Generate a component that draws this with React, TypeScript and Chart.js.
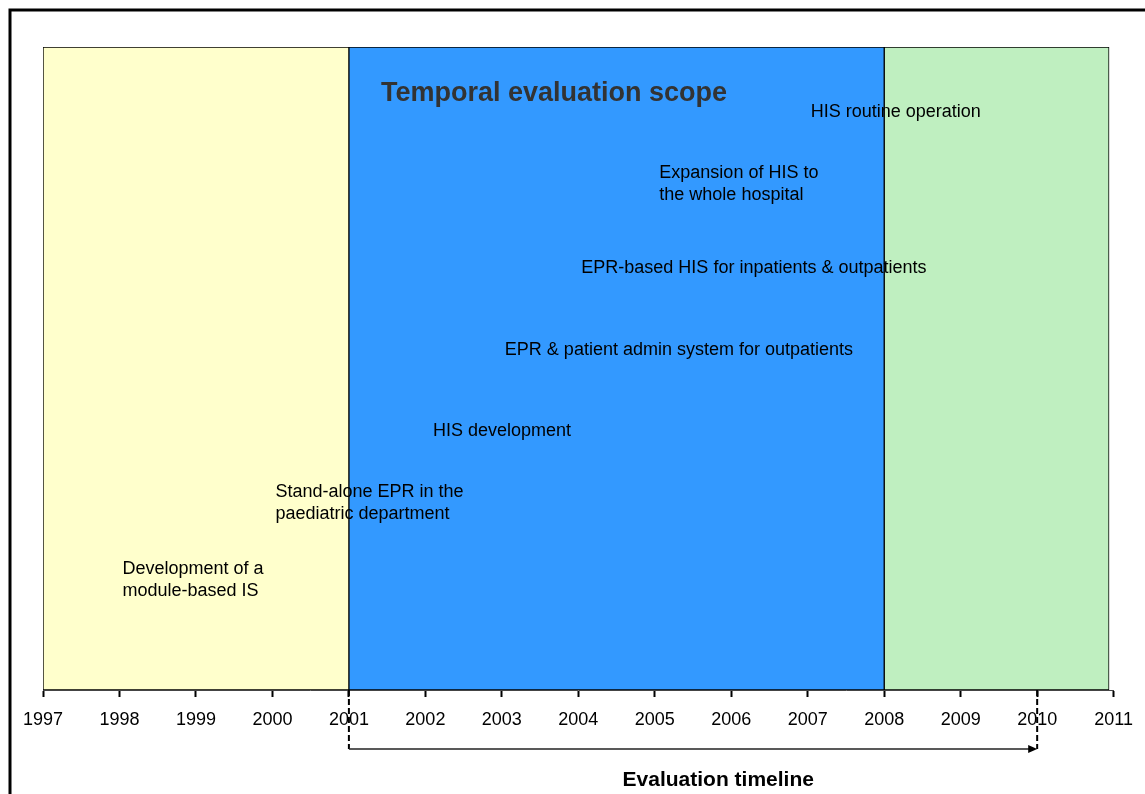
import React, { useEffect, useRef } from "react";
import { Chart, registerables } from "chart.js";

Chart.register(...registerables);

const YEARS = [1997, 1998, 1999, 2000, 2001, 2002, 2003, 2004, 2005, 2006, 2007, 2008, 2009, 2010, 2011];

const PHASE_NAMES = ["Development", "Temporal evaluation scope", "Routine operation"];
const PHASE_START = [1997, 2001, 2008];
const PHASE_END = [2001, 2008, 2010.94];
const PHASE_COLORS = ["#FFFFCC", "#3399FF", "#BFEFC0"];

const EVENT_LINES = [
  ["Development of a", "module-based IS"],
  ["Stand-alone EPR in the", "paediatric department"],
  ["HIS development"],
  ["EPR & patient admin system for outpatients"],
  ["EPR-based HIS for inpatients & outpatients"],
  ["Expansion of HIS to", "the whole hospital"],
  ["HIS routine operation"],
];
const EVENT_YEAR = [1998, 2000, 2002.06, 2003, 2004, 2005.02, 2007];
const EVENT_LEVEL = [18.85, 30.75, 40.25, 52.85, 65.65, 80.45, 89.85];

const TITLE_TEXT = "Temporal evaluation scope";
const TITLE_YEAR = 2001.42;
const TITLE_LEVEL = 92.7;

const EVAL_START = 2001;
const EVAL_END = 2010;
const EVAL_LABEL = "Evaluation timeline";
const EVAL_LABEL_YEAR = 2005.83;

const FONT = 'Arial, "Liberation Sans", sans-serif';

const overlay = {
  id: "overlay",
  afterDatasetsDraw(chart: any) {
    const { ctx, chartArea, scales } = chart;
    const x = scales.x;
    const y2 = scales.y2;
    ctx.save();

    // event labels
    ctx.font = `18px ${FONT}`;
    ctx.fillStyle = "#000";
    ctx.textAlign = "left";
    ctx.textBaseline = "middle";
    EVENT_LINES.forEach((lines, i) => {
      const px = x.getPixelForValue(EVENT_YEAR[i]) + 3;
      const py = y2.getPixelForValue(EVENT_LEVEL[i]);
      lines.forEach((l, j) => ctx.fillText(l, px, py + j * 22));
    });

    // title
    ctx.font = `bold 27px ${FONT}`;
    ctx.fillStyle = "#333333";
    ctx.fillText(TITLE_TEXT, x.getPixelForValue(TITLE_YEAR), y2.getPixelForValue(TITLE_LEVEL));

    // evaluation timeline
    const x1 = x.getPixelForValue(EVAL_START);
    const x2 = x.getPixelForValue(EVAL_END);
    const yb = chartArea.bottom;
    const ya = yb + 59;
    ctx.strokeStyle = "#000";
    ctx.lineWidth = 2;
    ctx.setLineDash([6, 3]);
    ctx.beginPath();
    ctx.moveTo(x1, yb);
    ctx.lineTo(x1, ya);
    ctx.moveTo(x2, yb);
    ctx.lineTo(x2, ya);
    ctx.stroke();
    ctx.setLineDash([]);
    ctx.lineWidth = 1.5;
    ctx.strokeStyle = "#222";
    ctx.beginPath();
    ctx.moveTo(x1, ya);
    ctx.lineTo(x2 - 6, ya);
    ctx.stroke();
    ctx.fillStyle = "#000";
    ctx.beginPath();
    ctx.moveTo(x2, ya);
    ctx.lineTo(x2 - 9, ya - 4);
    ctx.lineTo(x2 - 9, ya + 4);
    ctx.closePath();
    ctx.fill();

    ctx.font = `bold 21px ${FONT}`;
    ctx.textAlign = "center";
    ctx.fillStyle = "#000";
    ctx.fillText(EVAL_LABEL, x.getPixelForValue(EVAL_LABEL_YEAR), yb + 90);

    // outer frame
    ctx.lineWidth = 3;
    ctx.strokeStyle = "#000";
    ctx.beginPath();
    ctx.moveTo(10, chart.height);
    ctx.lineTo(10, 10);
    ctx.lineTo(chart.width, 10);
    ctx.stroke();

    ctx.restore();
  },
};

export default function App() {
  const ref = useRef<HTMLCanvasElement>(null);
  useEffect(() => {
    if (!ref.current) return;
    const chart = new Chart(ref.current, {
      type: "bar",
      data: {
        labels: ["scope"],
        datasets: PHASE_NAMES.map((name, i) => ({
          label: name,
          data: [[PHASE_START[i], PHASE_END[i]]] as any,
          backgroundColor: PHASE_COLORS[i],
          borderColor: "#000",
          borderWidth: 1,
          borderSkipped: false,
          barPercentage: 1,
          categoryPercentage: 1,
          grouped: false,
        })),
      },
      options: {
        indexAxis: "y",
        responsive: false,
        animation: false,
        devicePixelRatio: 1,
        layout: { padding: { left: 43, top: 47, right: 31, bottom: 0 } },
        plugins: { legend: { display: false }, tooltip: { enabled: false }, title: { display: false } },
        scales: {
          x: {
            type: "linear",
            position: "bottom",
            min: 1997,
            max: 2011,
            afterBuildTicks: (s: any) => {
              s.ticks = YEARS.map((v) => ({ value: v }));
            },
            afterFit: (s: any) => {
              s.height = 104;
            },
            grid: {
              display: true,
              drawOnChartArea: false,
              drawTicks: true,
              tickLength: 7,
              tickColor: "#000",
              tickWidth: 2,
            },
            border: { display: true, color: "#444", width: 1 },
            ticks: {
              autoSkip: false,
              maxRotation: 0,
              padding: 12,
              color: "#000",
              font: { family: FONT, size: 18 },
              callback: (v: any) => String(v),
            },
          },
          y: {
            type: "category",
            labels: ["scope"],
            display: false,
          },
          y2: {
            type: "linear",
            axis: "y",
            min: 0,
            max: 100,
            offset: false,
            grace: 0,
            display: false,
          },
        } as any,
      },
      plugins: [overlay],
    } as any);
    return () => chart.destroy();
  }, []);
  return (
    <div style={{ position: "fixed", left: 0, top: 0, width: 1145, height: 794, background: "#fff" }}>
      <canvas ref={ref} width={1145} height={794} style={{ display: "block" }} />
    </div>
  );
}
